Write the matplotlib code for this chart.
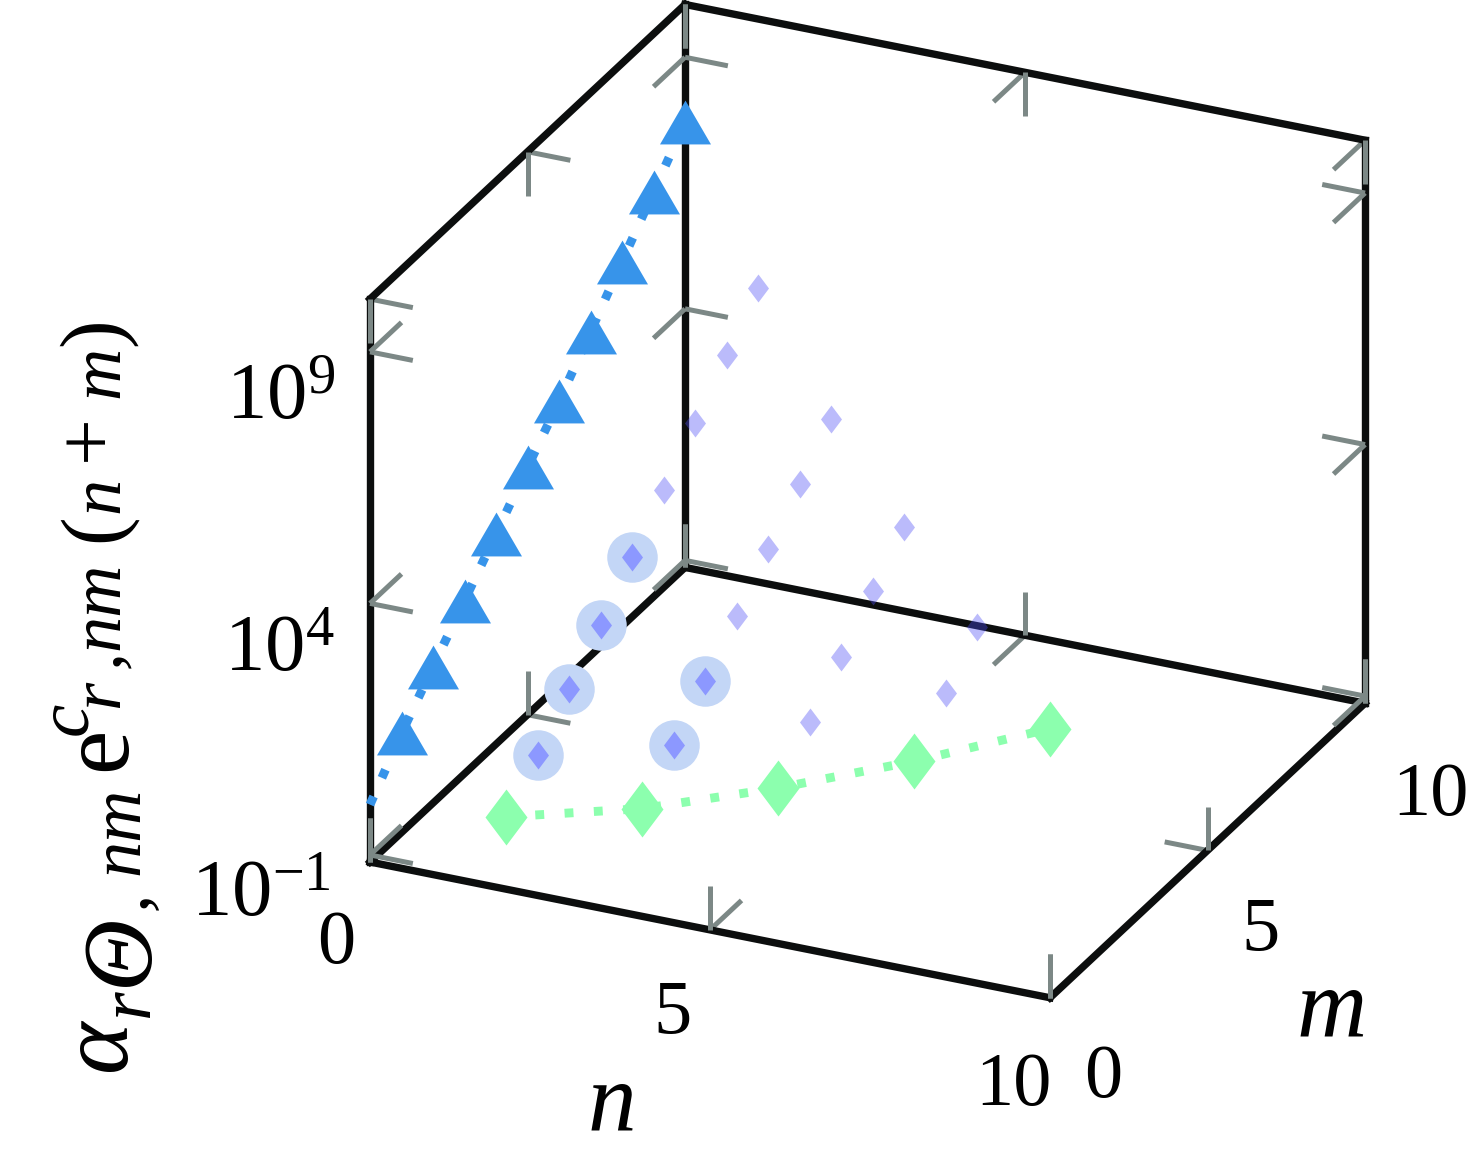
import matplotlib
matplotlib.use("Agg")
import matplotlib.pyplot as plt
from mpl_toolkits.mplot3d import proj3d

plt.rcParams['font.family'] = ['Liberation Serif']
plt.rcParams['mathtext.fontset'] = 'custom'
plt.rcParams['mathtext.rm'] = 'Liberation Serif'
plt.rcParams['mathtext.it'] = 'Liberation Serif:italic'

# data (z values are log10 of the plotted quantity)
blue_m = [1, 2, 3, 4, 5, 6, 7, 8, 9, 10]
blue_z = [0.83, 1.57, 2.30, 3.04, 3.78, 4.50, 5.30, 6.11, 6.91, 7.71]
blue_line_m = [0, 1, 2, 3, 4, 5, 6, 7, 8, 9, 10]
blue_line_z = [0.0, 0.83, 1.57, 2.30, 3.04, 3.78, 4.50, 5.30, 6.11, 6.91, 7.71]
green_n = [2, 4, 6, 8, 10]
green_z = [0.30, 1.00, 1.95, 3.02, 4.21]
circled_n = [2, 2, 2, 2, 4, 4]
circled_m = [1, 2, 3, 4, 1, 2]
circled_z = [0.95, 1.66, 2.36, 3.11, 1.67, 2.36]
light_n = [2, 2, 2, 2, 4, 4, 4, 4, 6, 6, 6, 6, 8, 8]
light_m = [5, 6, 7, 8, 3, 4, 5, 6, 1, 2, 3, 4, 1, 2]
light_z = [3.86, 4.61, 5.37, 6.12, 3.08, 3.82, 4.52, 5.23, 2.67, 3.39, 4.11, 4.80, 3.80, 4.51]

n_ticks = [0, 5, 10]
m_ticks = [0, 5, 10]
z_ticks = [-1, 4, 9]
n_lim = (0, 10)
m_lim = (0, 10)
z_lim = (-1.14, 10.05)

W, H = 1469, 1159
BLACK, GRAY = '#0c0e0e', '#7c8886'
BLUE, GREEN = '#3794ea', '#8cffae'
HALO, DARK_D = '#c3d6f6', '#8c98ff'
LIGHT_D = (0.30, 0.30, 0.96, 0.38)

TRI = [(-1, -0.86), (1, -0.86), (0, 0.86)]
DIA = [(0, 1), (0.75, 0), (0, -1), (-0.75, 0)]

fig = plt.figure(figsize=(W / 100, H / 100), dpi=100)
ax = fig.add_axes([-0.5, -0.5, 2, 2], projection='3d', proj_type='ortho')
ax.computed_zorder = False
ax.set_axis_off()
ax.view_init(elev=25.6, azim=-65.2)
ax.set_xlim(*n_lim, view_margin=0)
ax.set_ylim(*m_lim, view_margin=0)
ax.set_zlim(*z_lim, view_margin=0)


def to_px(x, y, z):
    X, Y, _ = proj3d.proj_transform(x, y, z, ax.get_proj())
    return ax.transData.transform((X, Y))


# fit the orthographic box onto the canvas
box = (750, 752, 625)
ax.set_box_aspect(box, zoom=1)
fig.canvas.draw()
a = to_px(n_lim[0], m_lim[0], z_lim[0])
b = to_px(n_lim[1], m_lim[0], z_lim[0])
ax.set_box_aspect(box, zoom=680 / (b[0] - a[0]))
fig.canvas.draw()
a = to_px(n_lim[0], m_lim[0], z_lim[0])
ax.set_position([-0.5 + (370 - a[0]) / W, -0.5 + ((H - 862) - a[1]) / H, 2, 2])
fig.canvas.draw()

# box: the three back faces
n0, n1 = n_lim
m0, m1 = m_lim
z0, z1 = z_lim
edges = [
    ((n0, n1), (m0, m0), (z0, z0)), ((n0, n1), (m1, m1), (z0, z0)), ((n0, n1), (m1, m1), (z1, z1)),
    ((n0, n0), (m0, m1), (z0, z0)), ((n1, n1), (m0, m1), (z0, z0)), ((n0, n0), (m0, m1), (z1, z1)),
    ((n0, n0), (m0, m0), (z0, z1)), ((n0, n0), (m1, m1), (z0, z1)), ((n1, n1), (m1, m1), (z0, z1)),
]
for xs, ys, zs in edges:
    ax.plot(xs, ys, zs, color=BLACK, lw=5.3, solid_capstyle='projecting', zorder=2)

# inward tick strokes
dn, dm, dz = 0.63, 1.0, 0.87
tk = dict(color=GRAY, lw=3.6, solid_capstyle='butt')
for t in n_ticks:
    for m, z, sm, sz in [(m0, z0, 1, 1), (m1, z0, -1, 1), (m1, z1, -1, -1)]:
        ax.plot((t, t), (m, m + sm * dm), (z, z), zorder=1, **tk)
        ax.plot((t, t), (m, m), (z, z + sz * dz), zorder=3, **tk)
for t in m_ticks:
    for n, z, sn, sz in [(n0, z0, 1, 1), (n1, z0, -1, 1), (n0, z1, 1, -1)]:
        ax.plot((n, n + sn * dn), (t, t), (z, z), zorder=1, **tk)
        ax.plot((n, n), (t, t), (z, z + sz * dz), zorder=3, **tk)
for t in z_ticks:
    for n, m, sn, sm in [(n0, m0, 1, 1), (n0, m1, 1, -1), (n1, m1, -1, -1)]:
        ax.plot((n, n + sn * dn), (m, m), (t, t), zorder=3, **tk)
        ax.plot((n, n), (m, m + sm * dm), (t, t), zorder=3, **tk)

# data
ax.plot(circled_n, circled_m, circled_z, ls='none', marker='o', ms=50.5 * 0.72, mfc=HALO, mec='none', zorder=4)
ax.plot(circled_n, circled_m, circled_z, ls='none', marker=DIA, ms=28 * 0.72, mfc=DARK_D, mec='none', zorder=5)
ax.plot(light_n, light_m, light_z, ls='none', marker=DIA, ms=28 * 0.72, mfc=LIGHT_D, mec='none', zorder=5)

dots = (0, (1, 2.3))
ax.plot([0] * len(blue_line_m), blue_line_m, blue_line_z, color=BLUE, lw=6.4, ls=dots, dash_capstyle='butt', zorder=6)
ax.plot([0] * len(blue_m), blue_m, blue_z, ls='none', marker=TRI, ms=51 * 0.72, mfc=BLUE, mec='none', zorder=7)
ax.plot(green_n, [0] * len(green_n), green_z, color=GREEN, lw=6.4, ls=dots, dash_capstyle='butt', zorder=6)
ax.plot(green_n, [0] * len(green_n), green_z, ls='none', marker=DIA, ms=56 * 0.72, mfc=GREEN, mec='none', zorder=7)


def T(x, y, s, size=55, **kw):
    kw.setdefault('ha', 'center')
    kw.setdefault('color', 'black')
    fig.text(x / W, 1 - y / H, s, fontsize=size, va='baseline', **kw)


# tick labels
for (x, y), s in zip([(336, 963), (673, 1033), (1013, 1105)], n_ticks):
    T(x, y, str(s))
for (x, y), s in zip([(1103, 1097), (1260, 950), (1430, 815)], m_ticks):
    T(x, y, str(s))
for (x, y), s in zip([(331, 916), (335, 671), (335, 420)], z_ticks):
    T(x, y, '$\\mathrm{10}^{%d}$' % s, size=58, ha='right')
T(612, 1129, 'n', size=70, style='italic')
T(1332, 1036, 'm', size=70, style='italic')

# z axis title, built from rotated pieces
it = dict(rotation=90, rotation_mode='anchor', ha='left', style='italic')
up = dict(it, style='normal')
T(125, 1072, 'α', size=72, **it)
T(148, 1018, 'r', size=53, **it)
T(147, 986, 'Θ', size=72, **it)
T(146, 910, ',', size=53, **it)
T(138, 875, 'nm', size=52, **it)
T(125, 771, 'e', size=72, **up)
T(86, 735, 'c', size=54, **it)
T(118, 708, 'r', size=52, **it)
T(118, 668, ',', size=52, **it)
T(118, 650, 'nm', size=52, **it)
T(118, 542, '(', size=62, **up)
T(118, 513, 'n', size=52, **it)
T(110, 461, '+', size=60, **up)
T(118, 398, 'm', size=52, **it)
T(118, 346, ')', size=62, **up)

fig.savefig('out.png', dpi=100)
